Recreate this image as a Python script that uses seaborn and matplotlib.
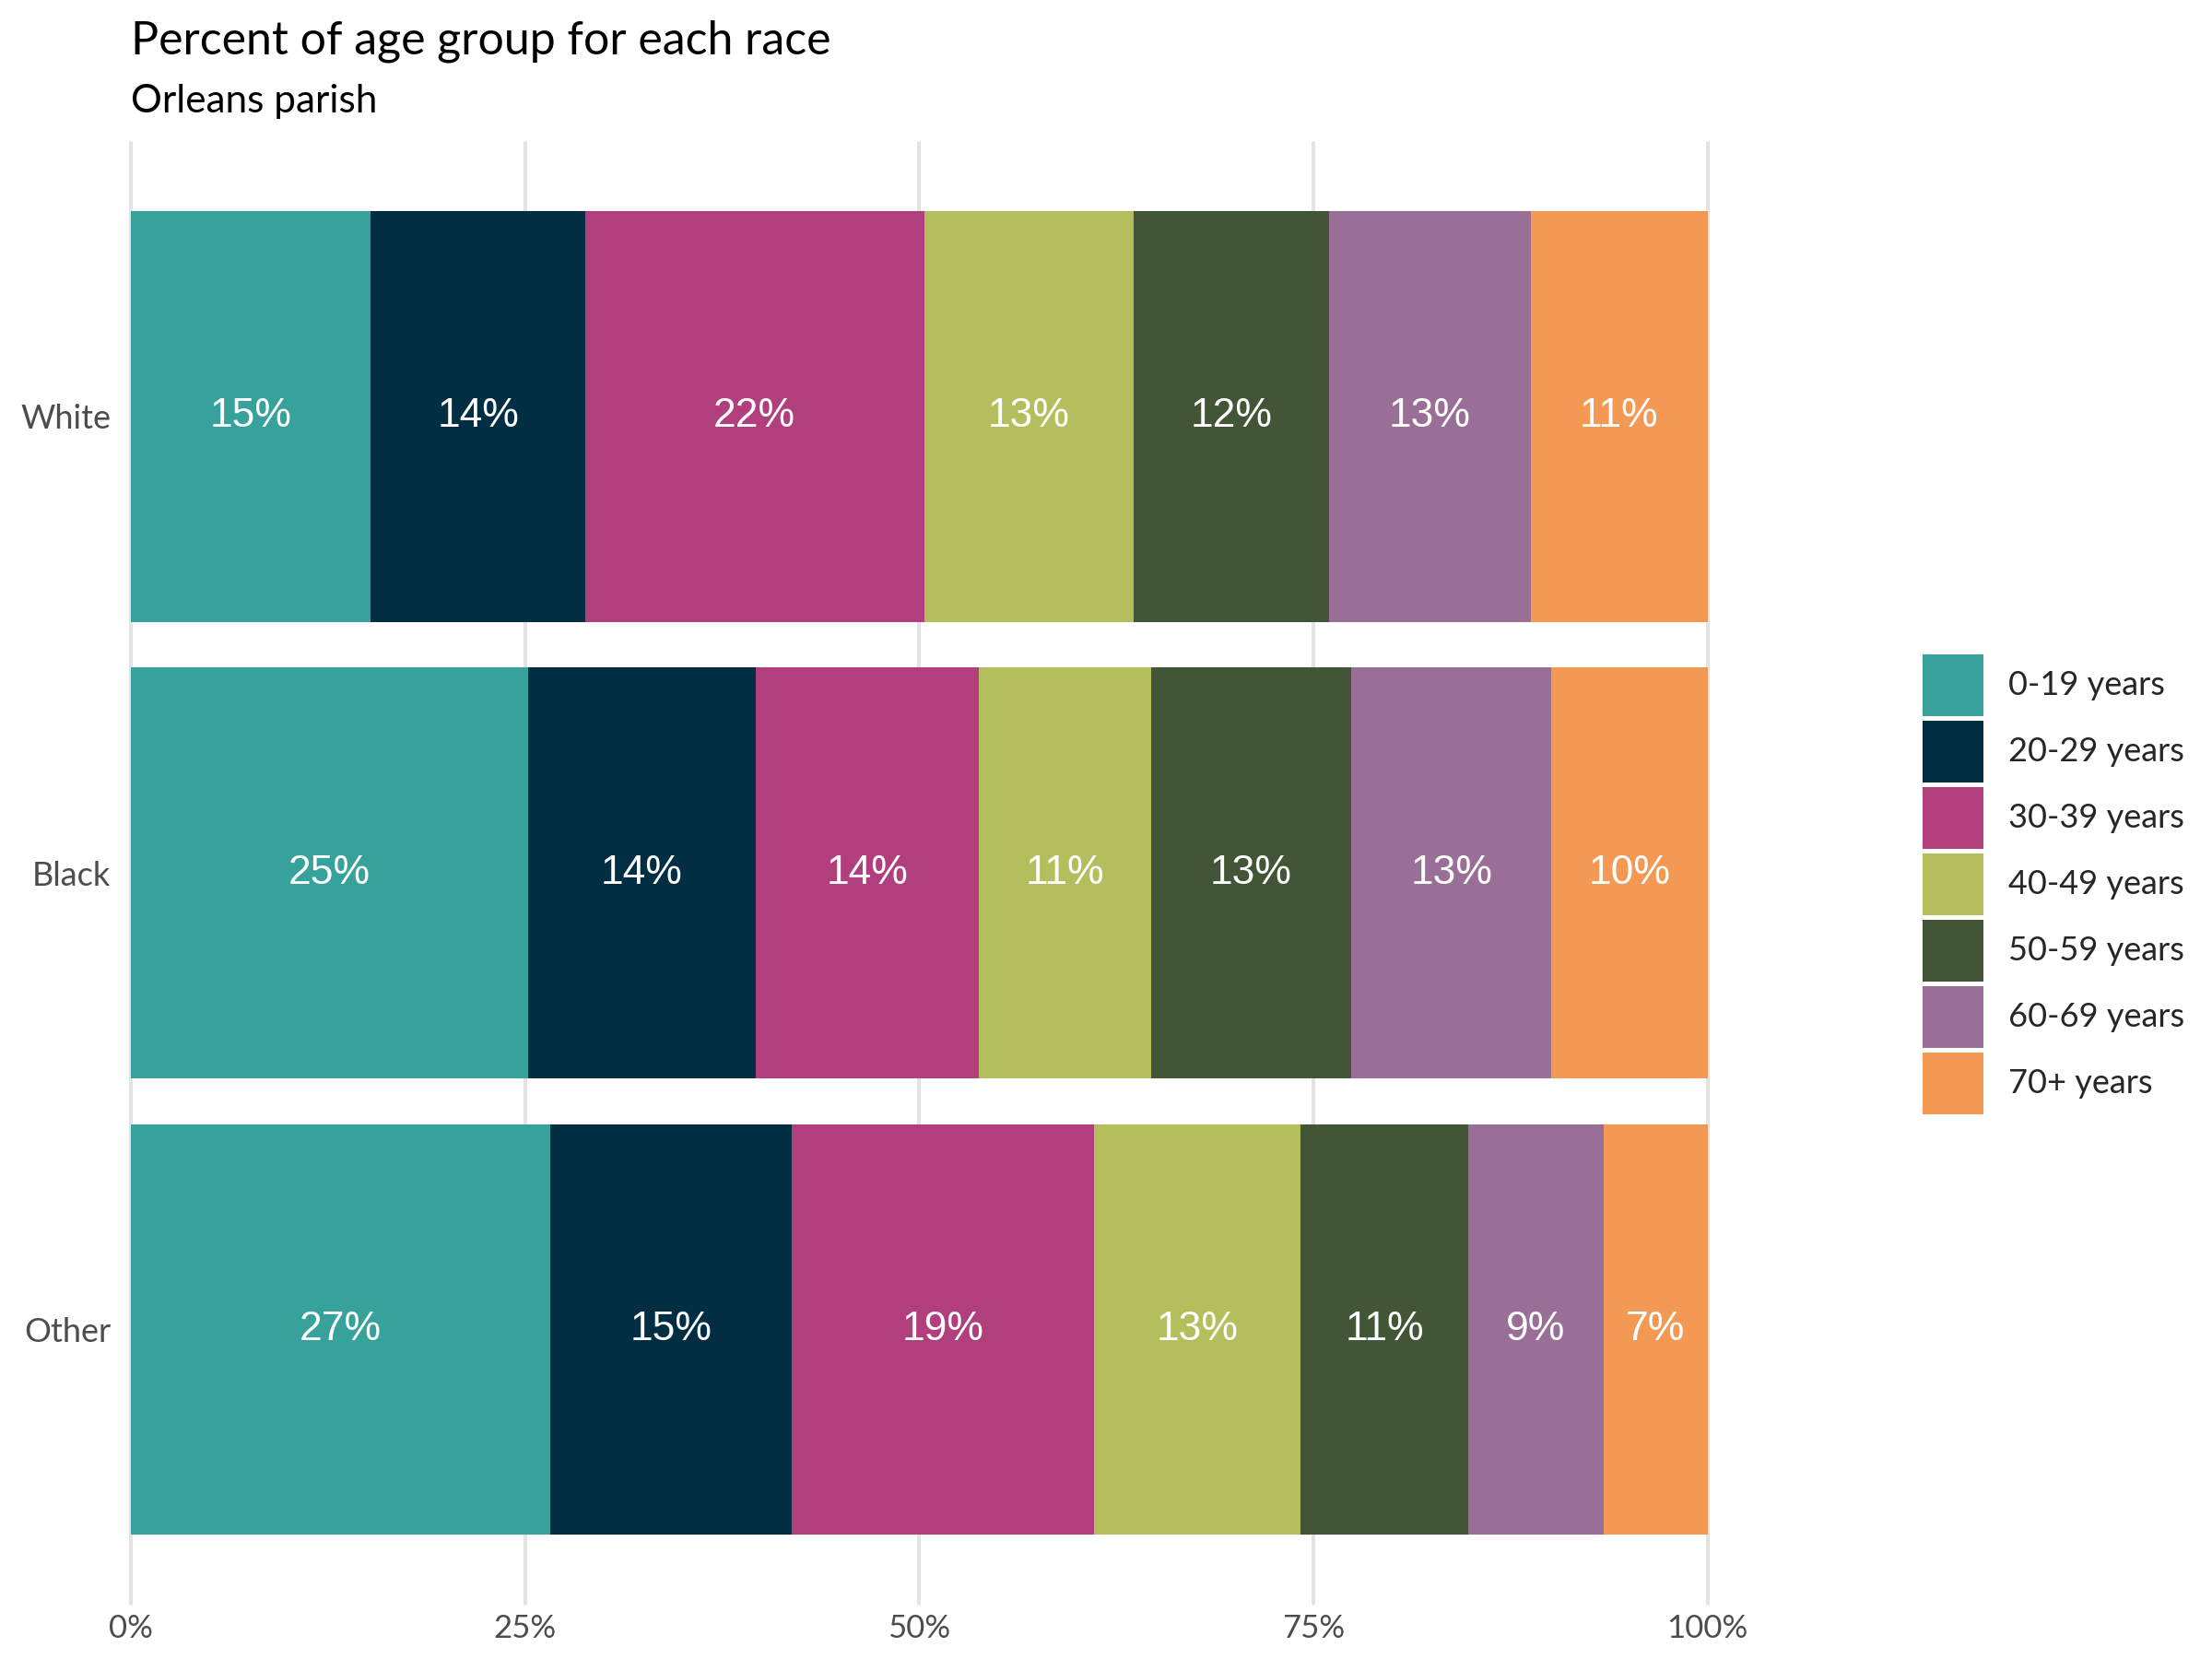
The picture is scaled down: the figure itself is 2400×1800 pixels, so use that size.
import matplotlib
matplotlib.use("Agg")
import matplotlib.pyplot as plt
from matplotlib.patches import Patch
import seaborn as sns
import pandas as pd
import numpy as np

races = ["White", "Black", "Other"]
age_groups = ["0-19 years", "20-29 years", "30-39 years", "40-49 years",
              "50-59 years", "60-69 years", "70+ years"]
white_pct = [15.2, 13.6, 21.5, 13.3, 12.4, 12.8, 11.2]
black_pct = [25.2, 14.4, 14.2, 10.9, 12.7, 12.7, 9.9]
other_pct = [26.6, 15.3, 19.2, 13.1, 10.6, 8.6, 6.6]
colors = ["#36A29B", "#022E44", "#B13F7E", "#B4BE5C", "#425536", "#9A6F97", "#F39954"]
xtick_vals = [0, 25, 50, 75, 100]
xtick_labels = ["0%", "25%", "50%", "75%", "100%"]

sns.set_theme(style="white")
plt.rcParams['font.family'] = ['Lato', 'DejaVu Sans']

vals = np.array([white_pct, black_pct, other_pct])
cum = np.cumsum(vals, axis=1)

fig = plt.figure(figsize=(12, 9), dpi=200)
ax = fig.add_axes([0.0593, 0.0335, 0.7126, 0.8805])

for x in xtick_vals:
    ax.axvline(x, color="#e3e3e3", lw=1.4, zorder=0, clip_on=False)

for i in range(len(age_groups) - 1, -1, -1):
    df = pd.DataFrame({"race": races, "value": cum[:, i]})
    sns.barplot(data=df, x="value", y="race", orient="h", color=colors[i],
                width=0.9, saturation=1, ax=ax, zorder=2, linewidth=0)

for r in range(len(races)):
    for i in range(len(age_groups)):
        center = cum[r, i] - vals[r, i] / 2
        ax.text(center, r, f"{round(vals[r, i]):d}%", ha="center", va="center",
                color="white", fontsize=16, family="Liberation Sans", zorder=3)

ax.set_xlim(0, 100)
ax.set_ylim(2.6, -0.6)
ax.set_xticks(xtick_vals)
ax.set_xticklabels(xtick_labels)
ax.set_xlabel("")
ax.set_ylabel("")
ax.tick_params(axis="x", labelsize=12.5, colors="#4d4d4d", length=0, pad=4)
ax.tick_params(axis="y", labelsize=13, colors="#4d4d4d", length=0, pad=8)
for s in ax.spines.values():
    s.set_visible(False)

fig.text(0.0593, 0.975, "Percent of age group for each race", fontsize=18,
         ha="left", va="center", color="black")
fig.text(0.0593, 0.939, "Orleans parish", fontsize=15.2,
         ha="left", va="center", color="black")

handles = [Patch(facecolor=c, edgecolor="none") for c in colors]
leg = fig.legend(handles, age_groups, loc="center left",
                 bbox_to_anchor=(0.869, 0.467), frameon=False,
                 fontsize=13, handlelength=1.85, handleheight=2.46,
                 labelspacing=0.15, handletextpad=0.75, borderaxespad=0,
                 borderpad=0)

fig.savefig("out.png", dpi=200, facecolor="white")
